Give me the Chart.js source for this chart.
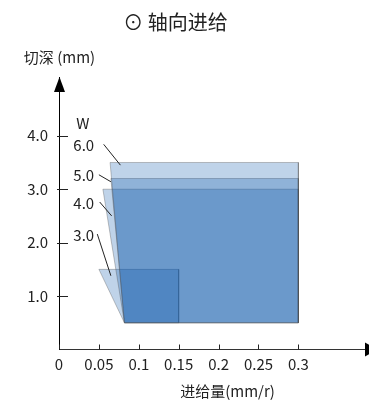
<!DOCTYPE html>
<html>
<head>
<meta charset="utf-8">
<script src="https://cdn.jsdelivr.net/npm/chart.js@4/dist/chart.umd.min.js"></script>
<style>
  html, body { margin: 0; padding: 0; background: #fff; }
  canvas { display: block; }
</style>
</head>
<body>
<canvas id="chart" width="369" height="404"></canvas>
<script>
// Width of cut W (mm), one polygon per width
const W_LABELS = ['6.0', '5.0', '4.0', '3.0'];
const TOP_DEPTH = [3.5, 3.2, 3.0, 1.5];
const TOP_LEFT_FEED = [0.064, 0.065, 0.055, 0.05];
const BOTTOM_LEFT_FEED = [0.082, 0.082, 0.082, 0.082];
const MAX_FEED = [0.3, 0.3, 0.3, 0.15];
const MIN_DEPTH = 0.5;

// leader lines from the W labels to their polygons
const LEADER_FROM_X = [0.056, 0.050, 0.051, 0.048];
const LEADER_FROM_Y = [3.84, 3.27, 2.76, 2.16];
const LEADER_TO_X = [0.077, 0.065, 0.066, 0.065];
const LEADER_TO_Y = [3.45, 3.14, 2.50, 1.38];

const X_TICKS = [0, 0.05, 0.1, 0.15, 0.2, 0.25, 0.3];
const X_TICK_LABELS = ['0', '0.05', '0.1', '0.15', '0.2', '0.25', '0.3'];
const Y_TICKS = [1, 2, 3, 4];
const Y_TICK_LABELS = ['1.0', '2.0', '3.0', '4.0'];

const FONT = "'Noto Sans CJK SC', 'Noto Sans', sans-serif";
const INK = '#222';

const shapeSets = W_LABELS.map((w, i) => ({
  label: 'W ' + w,
  data: [
    { x: BOTTOM_LEFT_FEED[i], y: MIN_DEPTH },
    { x: TOP_LEFT_FEED[i], y: TOP_DEPTH[i] },
    { x: MAX_FEED[i], y: TOP_DEPTH[i] },
    { x: MAX_FEED[i], y: MIN_DEPTH },
    { x: BOTTOM_LEFT_FEED[i], y: MIN_DEPTH },
  ],
  showLine: true,
  fill: 'shape',
  backgroundColor: 'rgba(0,80,168,0.25)',
  borderColor: 'rgba(80,80,80,0.35)',
  borderWidth: 1,
  pointRadius: 0,
  tension: 0,
  order: 2,
}));

const leaderSets = W_LABELS.map((w, i) => ({
  label: 'leader ' + w,
  data: [
    { x: LEADER_FROM_X[i], y: LEADER_FROM_Y[i] },
    { x: LEADER_TO_X[i], y: LEADER_TO_Y[i] },
  ],
  showLine: true,
  fill: false,
  borderColor: INK,
  borderWidth: 1,
  pointRadius: 0,
  order: 0,
}));

// arrows, inward ticks, titles and W labels
const decor = {
  id: 'decor',
  afterDatasetsDraw(chart) {
    const { ctx, chartArea: a, scales: { x, y } } = chart;
    ctx.save();
    ctx.strokeStyle = INK;
    ctx.lineWidth = 1;
    ctx.beginPath();
    Y_TICKS.forEach(v => {
      const py = Math.round(y.getPixelForValue(v)) + 0.5;
      ctx.moveTo(a.left - 2, py);
      ctx.lineTo(a.left + 9, py);
    });
    X_TICKS.forEach(v => {
      const px = Math.round(x.getPixelForValue(v)) + 0.5;
      ctx.moveTo(px, a.bottom);
      ctx.lineTo(px, a.bottom - 5);
    });
    ctx.stroke();

    // axis arrowheads
    const ax = Math.round(a.left) + 0.5;
    const ay = Math.round(a.bottom) - 0.5;
    ctx.fillStyle = '#000';
    ctx.beginPath();
    ctx.moveTo(ax, a.top);
    ctx.lineTo(ax - 5.5, a.top + 15);
    ctx.lineTo(ax + 5.5, a.top + 15);
    ctx.closePath();
    ctx.fill();
    ctx.beginPath();
    ctx.moveTo(a.right + 8, ay);
    ctx.lineTo(a.right - 4, ay - 7);
    ctx.lineTo(a.right - 4, ay + 7);
    ctx.closePath();
    ctx.fill();

    // texts
    ctx.fillStyle = INK;
    ctx.textAlign = 'center';
    ctx.textBaseline = 'middle';
    ctx.font = '20px ' + FONT;
    ctx.fillText('⊙ 轴向进给', 175.5, 22);
    ctx.font = '15px ' + FONT;
    ctx.fillText('切深 (mm)', 59.5, 57);
    ctx.fillText('进给量(mm/r)', 227.5, 391);

    const lx = x.getPixelForValue(0.031);
    ctx.fillText('W', lx - 1, y.getPixelForValue(4.23));
    W_LABELS.forEach((w, i) => {
      ctx.fillText(w, lx, y.getPixelForValue(LEADER_FROM_Y[i]) + 1);
    });
    ctx.restore();
  },
};

new Chart(document.getElementById('chart'), {
  type: 'scatter',
  data: { datasets: [...leaderSets, ...shapeSets] },
  options: {
    responsive: false,
    animation: false,
    layout: { padding: { top: 77, right: 0, left: 0, bottom: 0 } },
    plugins: { legend: { display: false }, tooltip: { enabled: false }, title: { display: false } },
    scales: {
      x: {
        type: 'linear',
        min: 0,
        max: 0.3885,
        afterBuildTicks: s => { s.ticks = X_TICKS.map(v => ({ value: v })); },
        afterFit: s => { s.height = 54.5; },
        ticks: {
          callback: (v, i) => X_TICK_LABELS[i],
          padding: 6,
          color: INK,
          font: { family: FONT, size: 15 },
          maxRotation: 0,
          autoSkip: false,
        },
        grid: { display: true, drawOnChartArea: false, drawTicks: false },
        border: { display: true, color: '#333', width: 1 },
      },
      y: {
        type: 'linear',
        min: 0,
        max: 5.1,
        afterBuildTicks: s => { s.ticks = Y_TICKS.map(v => ({ value: v })); },
        afterFit: s => { s.width = 59; },
        ticks: {
          callback: (v, i) => Y_TICK_LABELS[i],
          padding: 11,
          color: INK,
          font: { family: FONT, size: 15 },
          autoSkip: false,
        },
        grid: { display: true, drawOnChartArea: false, drawTicks: false },
        border: { display: true, color: '#000', width: 1 },
      },
    },
  },
  plugins: [decor],
});
</script>
</body>
</html>
